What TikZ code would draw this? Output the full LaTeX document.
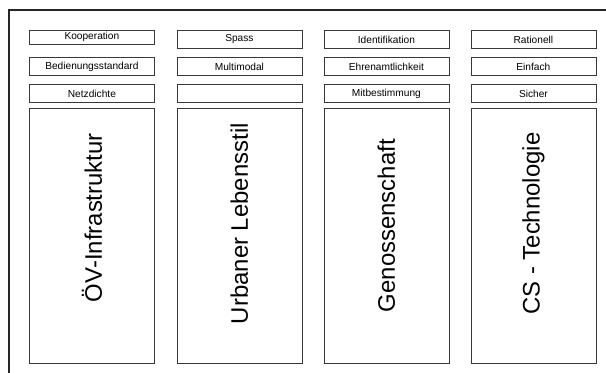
\documentclass[tikz,border=0pt]{standalone}
\usepackage{fontspec}
\setmainfont{Liberation Sans}
\begin{document}
\begin{tikzpicture}[x=1bp,y=-1bp,
  smallbox/.style={draw=black!78, line width=0.8bp, minimum width=125bp, minimum height=18bp, inner sep=0pt, anchor=north west, font=\fontsize{10.2}{12}\selectfont},
  bigbox/.style={draw=black!78, line width=0.8bp, minimum width=125bp, minimum height=255.5bp, inner sep=0pt, anchor=north west},
  biglabel/.style={rotate=90, inner sep=0pt, font=\fontsize{24}{28}\selectfont},
  frame/.style={draw=black!85, line width=1.2bp}]
\useasboundingbox (0,0) rectangle (606,372);
\draw[frame] (9,380) -- (9,10) -- (620,10);
% column 1
\node[smallbox, minimum height=13.5bp] (a1) at (29,30) {Kooperation};
\node[smallbox] (a2) at (29,57) {Bedienungsstandard};
\node[smallbox] (a3) at (29,84) {Netzdichte};
\node[bigbox] (a4) at (29,107.5) {};
\node[biglabel] (la) at ([yshift=18bp]a4.center) {ÖV-Infrastruktur};
% column 2
\node[smallbox] (b1) at (176.5,30) {Spass};
\node[smallbox] (b2) at (176.5,57) {Multimodal};
\node[smallbox] (b3) at (176.5,84) {};
\node[bigbox] (b4) at (176.5,107.5) {};
\node[biglabel] (lb) at ([yshift=12bp]b4.center) {Urbaner Lebensstil};
% column 3
\node[smallbox] (c1) at (323.5,30) {Identifikation};
\node[smallbox] (c2) at (323.5,57) {Ehrenamtlichkeit};
\node[smallbox] (c3) at (323.5,84) {Mitbestimmung};
\node[bigbox] (c4) at (323.5,107.5) {};
\node[biglabel] (lc) at ([yshift=10bp]c4.center) {Genossenschaft};
% column 4
\node[smallbox] (d1) at (470.5,30) {Rationell};
\node[smallbox] (d2) at (470.5,57) {Einfach};
\node[smallbox] (d3) at (470.5,84) {Sicher};
\node[bigbox] (d4) at (470.5,107.5) {};
\node[biglabel] (ld) at ([yshift=12bp]d4.center) {CS - Technologie};
\end{tikzpicture}
\end{document}
